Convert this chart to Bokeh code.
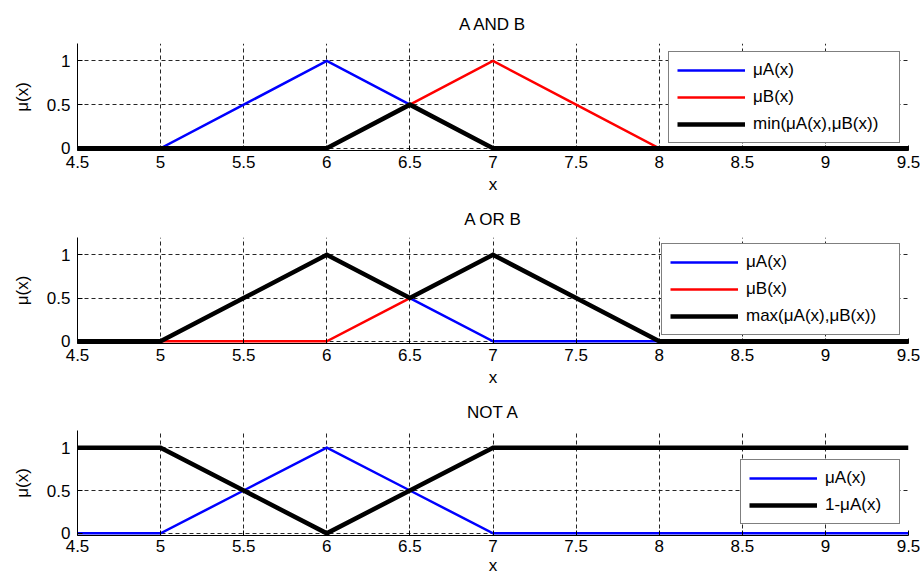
from bokeh.plotting import figure
from bokeh.layouts import column
from bokeh.models import Range1d, FixedTicker, Legend, LegendItem
from bokeh.embed import file_html
from bokeh.resources import INLINE

# ---- data ----
x = [4.5, 5, 5.5, 6, 6.5, 7, 7.5, 8, 9.5]
mu_a = [0, 0, 0.5, 1, 0.5, 0, 0, 0, 0]
mu_b = [0, 0, 0, 0, 0.5, 1, 0.5, 0, 0]
mu_min = [0, 0, 0, 0, 0.5, 0, 0, 0, 0]
mu_max = [0, 0, 0.5, 1, 0.5, 1, 0.5, 0, 0]
mu_not_a = [1, 1, 0.5, 0, 0.5, 1, 1, 1, 1]

x_ticks = [4.5, 5, 5.5, 6, 6.5, 7, 7.5, 8, 8.5, 9, 9.5]
x_tick_labels = ["4.5", "5", "5.5", "6", "6.5", "7", "7.5", "8", "8.5", "9", "9.5"]
y_ticks = [0, 0.5, 1]
y_tick_labels = ["0", "0.5", "1"]
titles = ["A AND B", "A OR B", "NOT A"]

FONT = "Liberation Sans"
FS = "17px"
TXT = "black"


def make_fig(title, height, top, bottom, title_off, lab_off, axlab_off):
    p = figure(width=920, height=height, output_backend="svg", toolbar_location=None,
               x_range=Range1d(4.5, 9.5), y_range=Range1d(-0.025, 1.2),
               min_border_left=77, min_border_right=12,
               min_border_top=top, min_border_bottom=bottom)
    p.outline_line_color = None
    p.background_fill_color = "white"
    p.border_fill_color = "white"
    p.title.text = title
    p.title.align = "center"
    p.title.text_font = FONT
    p.title.text_font_size = FS
    p.title.text_font_style = "normal"
    p.title.text_color = TXT
    p.title.standoff = title_off
    for ax in (p.xaxis[0], p.yaxis[0]):
        ax.major_label_text_font = FONT
        ax.major_label_text_font_size = FS
        ax.major_label_text_color = TXT
        ax.axis_label_text_font = FONT
        ax.axis_label_text_font_size = FS
        ax.axis_label_text_font_style = "normal"
        ax.axis_label_text_color = TXT
        ax.major_tick_in = 5
        ax.major_tick_out = 0
        ax.minor_tick_in = 0
        ax.minor_tick_out = 0
        ax.axis_line_color = "black"
        ax.major_tick_line_color = "black"
    p.xaxis[0].ticker = FixedTicker(ticks=x_ticks)
    p.xaxis[0].major_label_overrides = {t: l for t, l in zip(x_ticks, x_tick_labels)}
    p.yaxis[0].ticker = FixedTicker(ticks=y_ticks)
    p.yaxis[0].major_label_overrides = {t: l for t, l in zip(y_ticks, y_tick_labels)}
    p.xaxis[0].axis_label = "x"
    p.yaxis[0].axis_label = "μ(x)"
    p.xaxis[0].major_label_standoff = lab_off
    p.xaxis[0].axis_label_standoff = axlab_off
    p.yaxis[0].major_label_standoff = 7
    p.yaxis[0].axis_label_standoff = 12
    for g in (p.xgrid[0], p.ygrid[0]):
        g.grid_line_color = "black"
        g.grid_line_alpha = 0.85
        g.grid_line_dash = "4 3"
        g.grid_line_width = 1
    return p


def add_line(p, ys, color, width):
    return p.line(x, ys, line_color=color, line_width=width, line_join="miter")


def add_legend(p, items, loc, label_width):
    leg = Legend(items=items, location=loc, margin=0,
                 padding=8, spacing=7, glyph_width=68, glyph_height=20,
                 label_height=20, label_width=label_width, label_standoff=8,
                 label_text_font=FONT, label_text_font_size=FS,
                 label_text_color=TXT,
                 border_line_color="black", border_line_width=1,
                 background_fill_color="white", background_fill_alpha=1.0)
    p.add_layout(leg)


# --- A AND B ---
p1 = make_fig(titles[0], 198, 43, 48, 20, 5, 4)
r1a = add_line(p1, mu_a, "blue", 2.5)
r1b = add_line(p1, mu_b, "red", 2.5)
r1c = add_line(p1, mu_min, "black", 4.5)
add_legend(p1, [LegendItem(label="μA(x)", renderers=[r1a]),
                LegendItem(label="μB(x)", renderers=[r1b]),
                LegendItem(label="min(μA(x),μB(x))", renderers=[r1c])],
           (591, 7), 138)

# --- A OR B ---
p2 = make_fig(titles[1], 193, 38, 48, 18, 5, 4)
r2a = add_line(p2, mu_a, "blue", 2.5)
r2b = add_line(p2, mu_b, "red", 2.5)
r2c = add_line(p2, mu_max, "black", 4.5)
add_legend(p2, [LegendItem(label="μA(x)", renderers=[r2a]),
                LegendItem(label="μB(x)", renderers=[r2b]),
                LegendItem(label="max(μA(x),μB(x))", renderers=[r2c])],
           (584, 8), 145)

# --- NOT A ---
p3 = make_fig(titles[2], 188, 37, 44, 18, 4, 1)
r3a = add_line(p3, mu_a, "blue", 2.5)
r3b = add_line(p3, mu_not_a, "black", 4.5)
add_legend(p3, [LegendItem(label="μA(x)", renderers=[r3a]),
                LegendItem(label="1-μA(x)", renderers=[r3b])],
           (663, 11), 66)

layout = column(p1, p2, p3, spacing=0)
open("out.html", "w").write(file_html(layout, INLINE))
